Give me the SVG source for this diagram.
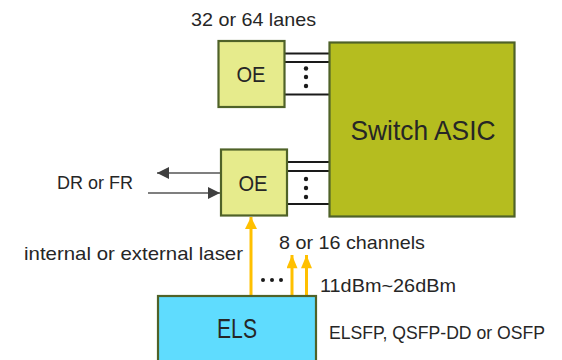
<svg xmlns="http://www.w3.org/2000/svg" width="562" height="360" viewBox="0 0 562 360">
<defs>
<style>
.box{stroke:#4f6228;stroke-width:2.2}
.oe{fill:#e6eb8c}
.t{font-family:"Liberation Sans",Arial,sans-serif;fill:#262626}
.lane{stroke:#1a1a1a;stroke-width:2.2}
.dot{fill:#1a1a1a}
.gray{stroke:#7f7f7f;stroke-width:1.8;fill:none}
.laser{stroke:#ffc000;stroke-width:3;fill:none}
</style>
<marker id="ga" viewBox="0 0 12 12" refX="12" refY="6" markerWidth="12" markerHeight="12" markerUnits="userSpaceOnUse" orient="auto">
<path d="M0,0 L12,6 L0,12 z" fill="#3f3f3f"/>
</marker>
<marker id="ya" viewBox="0 0 12 12" refX="12" refY="6" markerWidth="12" markerHeight="12" markerUnits="userSpaceOnUse" orient="auto">
<path d="M0,0 L12,6 L0,12 z" fill="#ffc000"/>
</marker>
<marker id="ys" viewBox="0 0 12 10" refX="12" refY="5" markerWidth="14" markerHeight="11" markerUnits="userSpaceOnUse" orient="auto">
<path d="M0,0 L12,5 L0,10 z" fill="#ffc000"/>
</marker>
</defs>
<rect width="562" height="360" fill="#ffffff"/>

<g id="connectors">
<line class="lane" x1="285" y1="53.5" x2="330" y2="53.5"/>
<line class="lane" x1="285" y1="62" x2="330" y2="62"/>
<line class="lane" x1="285" y1="94.5" x2="330" y2="94.5"/>
<circle class="dot" cx="306" cy="68.5" r="2.2"/>
<circle class="dot" cx="306" cy="77" r="2.2"/>
<circle class="dot" cx="306" cy="86" r="2.2"/>
<line class="lane" x1="288" y1="162" x2="330" y2="162"/>
<line class="lane" x1="288" y1="171" x2="330" y2="171"/>
<line class="lane" x1="288" y1="204" x2="330" y2="204"/>
<circle class="dot" cx="306" cy="179" r="2.2"/>
<circle class="dot" cx="306" cy="188" r="2.2"/>
<circle class="dot" cx="306" cy="197" r="2.2"/>
<line class="gray" x1="220" y1="173" x2="157" y2="173" marker-end="url(#ga)"/>
<line class="gray" x1="148" y1="193" x2="220" y2="193" marker-end="url(#ga)"/>
<line class="laser" x1="251" y1="296" x2="251" y2="217" marker-end="url(#ya)"/>
<line class="laser" x1="292" y1="296" x2="292" y2="255" marker-end="url(#ys)"/>
<line class="laser" x1="306.5" y1="296" x2="306.5" y2="255" marker-end="url(#ys)"/>
<circle class="dot" cx="263" cy="280" r="2"/>
<circle class="dot" cx="272" cy="280" r="2"/>
<circle class="dot" cx="281" cy="280" r="2"/>
</g>

<g id="switch">
<rect class="box" x="329.5" y="42.5" width="185" height="174" fill="#b5bd1f"/>
<text class="t" x="423" y="140" font-size="28" text-anchor="middle" textLength="145" lengthAdjust="spacingAndGlyphs">Switch ASIC</text>
</g>

<g id="oe-top">
<rect class="box oe" x="218.5" y="41" width="66" height="66"/>
<text class="t" x="251" y="82" font-size="22" text-anchor="middle" textLength="29" lengthAdjust="spacingAndGlyphs">OE</text>
</g>

<g id="oe-bottom">
<rect class="box oe" x="221" y="149.5" width="66" height="66"/>
<text class="t" x="253" y="191" font-size="22" text-anchor="middle" textLength="29" lengthAdjust="spacingAndGlyphs">OE</text>
</g>

<g id="els">
<rect class="box" x="158" y="296" width="158" height="70" fill="#5fdcfe"/>
<text class="t" x="237" y="338" font-size="27" text-anchor="middle" textLength="40" lengthAdjust="spacingAndGlyphs">ELS</text>
</g>

<g id="labels">
<text class="t" x="191" y="26" font-size="19" textLength="125" lengthAdjust="spacingAndGlyphs">32 or 64 lanes</text>
<text class="t" x="57" y="189" font-size="19" textLength="76" lengthAdjust="spacingAndGlyphs">DR or FR</text>
<text class="t" x="24" y="260" font-size="19" textLength="219" lengthAdjust="spacingAndGlyphs">internal or external laser</text>
<text class="t" x="279" y="249" font-size="19" textLength="146" lengthAdjust="spacingAndGlyphs">8 or 16 channels</text>
<text class="t" x="320" y="292" font-size="19" textLength="136" lengthAdjust="spacingAndGlyphs">11dBm~26dBm</text>
<text class="t" x="329" y="339" font-size="19" textLength="216" lengthAdjust="spacingAndGlyphs">ELSFP, QSFP-DD or OSFP</text>
</g>
</svg>
